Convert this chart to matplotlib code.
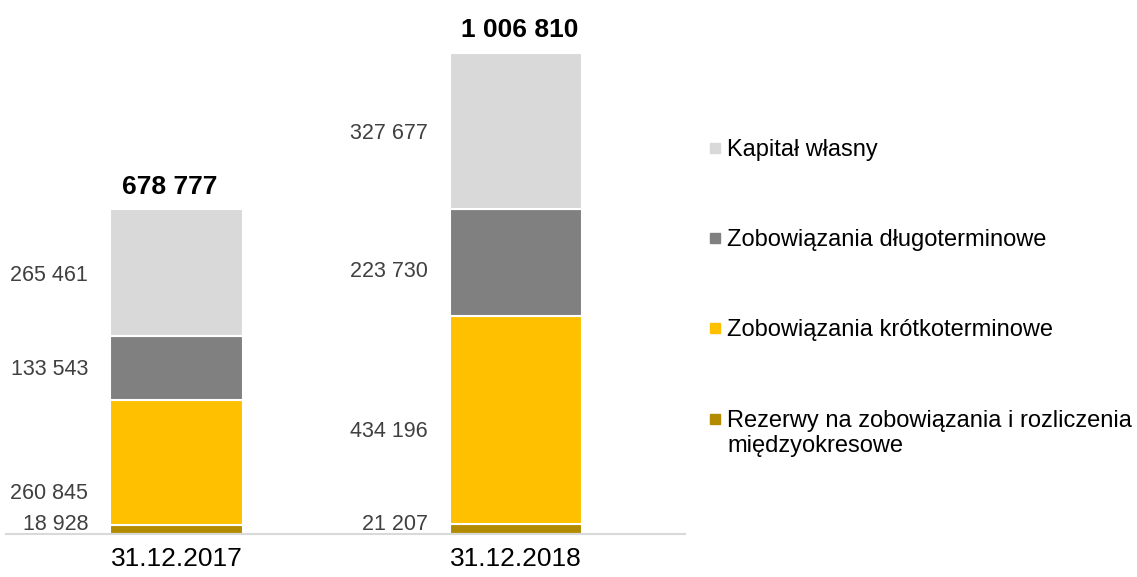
import matplotlib.pyplot as plt
from matplotlib.patches import Rectangle

plt.rcParams['font.family'] = ['Liberation Sans', 'DejaVu Sans']

# data (thousands)
dates = ['31.12.2017', '31.12.2018']
rezerwy = [18928, 21207]
krotko = [260845, 434196]
dlugo = [133543, 223730]
kapital = [265461, 327677]

series = [rezerwy, krotko, dlugo, kapital]
names = ['Rezerwy na zobowiązania i rozliczenia\nmiędzyokresowe',
         'Zobowiązania krótkoterminowe',
         'Zobowiązania długoterminowe',
         'Kapitał własny']
colors = ['#B38B00', '#FFC000', '#808080', '#D9D9D9']
# vertical nudges (points) for the segment labels, as in the original
nudge = [[3.5, 3.5], [-22, -8.5], [-0.5, -6], [-1.5, -2]]


def fmt(v):
    return f'{v:,}'.replace(',', ' ')


fig = plt.figure(figsize=(11.37, 5.77), dpi=100)
W, H = 1137, 577
ax = fig.add_axes([6 / W, 1 - 534 / H, (685 - 6) / W, 524 / H])

x = [0, 1]
width = 0.39
bottom = [0, 0]
for vals, col, nd in zip(series, colors, nudge):
    ax.bar(x, vals, width, bottom=bottom, color=col, edgecolor='white',
           linewidth=1.5)
    for i in range(len(x)):
        mid = bottom[i] + vals[i] / 2
        ax.annotate(fmt(vals[i]), (x[i] - width / 2, mid),
                    xytext=(-16, nd[i]), textcoords='offset points',
                    ha='right', va='center', fontsize=15.5, color='#404040')
    bottom = [b + v for b, v in zip(bottom, vals)]

tot_dx = [-5, 3]
for i in range(len(x)):
    ax.annotate(fmt(bottom[i]), (x[i], bottom[i]), xytext=(tot_dx[i], 16),
                textcoords='offset points', ha='center', va='center',
                fontsize=19, fontweight='bold', color='black')

ax.set_xlim(-0.502, 1.498)
ax.set_ylim(0, 1096000)
ax.set_xticks(x)
ax.set_xticklabels(dates, fontsize=19, color='black')
ax.tick_params(axis='x', length=0, pad=9)
ax.set_yticks([])
for s in ['top', 'left', 'right']:
    ax.spines[s].set_visible(False)
ax.spines['bottom'].set_color('#D9D9D9')
ax.spines['bottom'].set_linewidth(1.5)

# legend, top entry first
leg_rows = [148, 238, 328, 419]
for name, col, yy in zip(names[::-1], colors[::-1], leg_rows):
    fig.patches.append(Rectangle((710 / W, 1 - (yy + 5) / H), 10 / W, 10 / H,
                                 transform=fig.transFigure, color=col))
    fig.text(727 / W, 1 - (yy - 9) / H, name, fontsize=17, color='black',
             ha='left', va='top', linespacing=1.2)

fig.savefig('out.png', dpi=100)
